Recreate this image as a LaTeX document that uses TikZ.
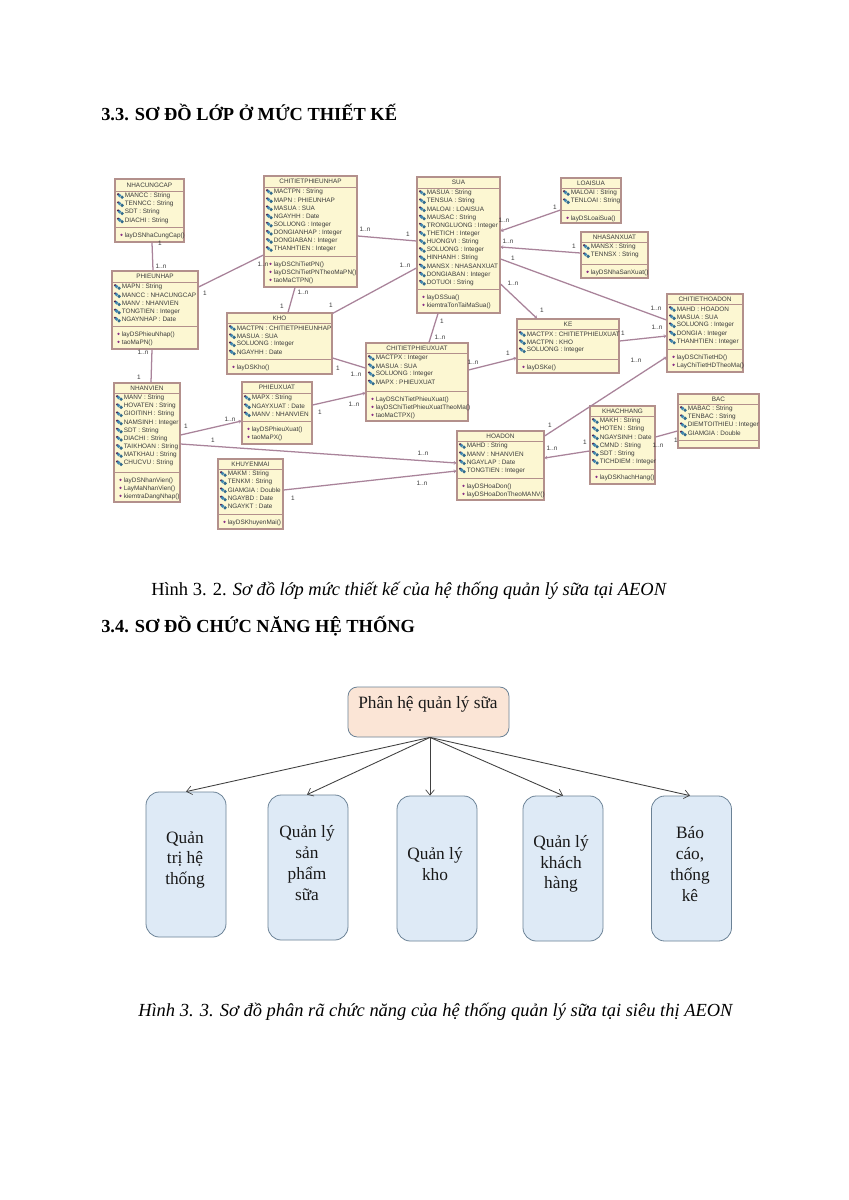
\documentclass[tikz,border=0pt]{standalone}
\usepackage{fontspec}
\setmainfont{Liberation Serif}
\newfontfamily\umlf{Liberation Sans}
\usetikzlibrary{arrows.meta,calc}
\definecolor{umlfill}{HTML}{FCF7D2}
\definecolor{umledge}{HTML}{B3908C}
\definecolor{umlline}{HTML}{A9839A}
\definecolor{umltext}{HTML}{3C3C3C}
\definecolor{attrblue}{HTML}{3F86B0}
\definecolor{methpurple}{HTML}{8A2F86}
\definecolor{topfill}{HTML}{FBE5D6}
\definecolor{botfill}{HTML}{DEEAF6}
\definecolor{boxedge}{HTML}{6B8296}
\tikzset{
  classbox/.style={draw=umledge,fill=umlfill,line width=0.85pt,inner sep=0,rectangle},
  rowline/.style={draw=umledge,line width=0.7pt},
  umltitle/.style={font=\umlf\fontsize{4.8}{5.5}\selectfont,text=umltext,inner sep=0},
  umlrow/.style={font=\umlf\fontsize{4.8}{5.5}\selectfont,text=umltext,inner sep=0,anchor=west},
  mult/.style={font=\umlf\fontsize{4.8}{5.5}\selectfont,text=umltext,inner sep=0},
  assoc/.style={draw=umlline,line width=0.95pt},
  assocto/.style={assoc,-{Straight Barb[length=1.6pt,width=2.4pt,line width=0.4pt]}},
  topbox/.style={draw=boxedge,fill=topfill,line width=0.6pt,rounded corners=7pt,inner sep=0},
  botbox/.style={draw=boxedge,fill=botfill,line width=0.6pt,rounded corners=10pt,inner sep=0},
  boxtext/.style={font=\fontsize{13}{15.6}\selectfont,align=center,inner sep=0,text=black!90},
  flow/.style={draw=black!75,line width=0.65pt,-{Straight Barb[length=4pt,width=6.5pt,line width=0.5pt]}},
  headtext/.style={font=\bfseries\fontsize{13.8}{16}\selectfont,anchor=west,inner sep=0},
  captext/.style={font=\fontsize{13.85}{16}\selectfont,anchor=west,inner sep=0},
}
\newcounter{mc}
\newcommand{\mlt}[3]{\stepcounter{mc}\node[mult] (m\arabic{mc}) at (#1,#2) {#3};}
\def\emptyrow{}
% id x0 y0 x1 y1 headerY dividerY title attrs methods
\newcommand{\umlclass}[9]{%
  \def\cid{#1}\def\cxa{#2}\def\cya{#3}\def\cxb{#4}\def\cyb{#5}\def\chd{#6}\def\cdv{#7}%
  \def\ctitle{#8}\def\cattrs{#9}\umlclassB}
\newcommand{\umlclassB}[1]{%
  \pgfmathsetmacro{\cmx}{(\cxa+\cxb)/2}\pgfmathsetmacro{\cmy}{(\cya+\cyb)/2}%
  \pgfmathsetmacro{\cw}{(\cxb-\cxa)*0.75}\pgfmathsetmacro{\ch}{(\cyb-\cya)*0.75}%
  \node[classbox,minimum width=\cw pt,minimum height=\ch pt] (\cid) at (\cmx,\cmy) {};
  \draw[rowline] (\cxa,\chd) -- (\cxb,\chd);
  \draw[rowline] (\cxa,\cdv) -- (\cxb,\cdv);
  \pgfmathsetmacro{\cty}{(\cya+\chd)/2}%
  \node[umltitle] (\cid-title) at (\cmx,\cty) {\ctitle};
  \foreach \rowtxt [count=\ri] in \cattrs {%
    \pgfmathsetmacro{\ry}{\chd+5+(\ri-1)*8.15}%
    \pgfmathsetmacro{\ix}{\cxa+5.5}%
    \fill[methpurple!55!black] (\ix-2.4,\ry-1.8) circle (1.2);
    \fill[attrblue] (\ix-1,\ry-0.6) circle (1.9);
    \fill[attrblue!80!black] (\ix+1.6,\ry+1.2) circle (1.8);
    \pgfmathsetmacro{\tx}{\cxa+9.5}%
    \node[umlrow] (\cid-a\ri) at (\tx,\ry) {\rowtxt};
  }
  \foreach \rowtxt [count=\ri] in {#1} {%
    \ifx\rowtxt\emptyrow\else
    \pgfmathsetmacro{\ry}{\cdv+9+(\ri-1)*8}%
    \pgfmathsetmacro{\ix}{\cxa+6.5}%
    \fill[methpurple] (\ix,\ry-1.2) circle (1.3);
    \pgfmathsetmacro{\tx}{\cxa+9.5}%
    \node[umlrow] (\cid-m\ri) at (\tx,\ry) {\rowtxt};
    \fi
  }
}
\begin{document}
\begin{tikzpicture}[x=0.75pt,y=-0.75pt]
\useasboundingbox (0,0) rectangle (849,1200);
\fill[white] (0,0) rectangle (849,1200);
\node[headtext] (h1) at (101,112) {3.3. SƠ ĐỒ LỚP Ở MỨC THIẾT KẾ};
\node[headtext] (h2) at (101,626) {3.4. SƠ ĐỒ CHỨC NĂNG HỆ THỐNG};
\node[captext] (c1) at (151,591) {Hình 3. 2. \textit{Sơ đồ lớp mức thiết kế của hệ thống quản lý sữa tại AEON}};
\node[captext] (c2) at (138,1012) {\textit{Hình 3. 3. Sơ đồ phân rã chức năng của hệ thống quản lý sữa tại siêu thị AEON}};

\umlclass{NHACUNGCAP}{115}{179}{184}{242}{191}{227}{NHACUNGCAP}{MANCC : String,TENNCC : String,SDT : String,DIACHI : String}{layDSNhaCungCap()}
\umlclass{PHIEUNHAP}{112}{271}{198}{349}{282}{326}{PHIEUNHAP}{MAPN : String,MANCC : NHACUNGCAP,MANV : NHANVIEN,TONGTIEN : Integer,NGAYNHAP : Date}{layDSPhieuNhap(),taoMaPN()}
\umlclass{CTPN}{264}{176}{357}{287}{187}{256}{CHITIETPHIEUNHAP}{MACTPN : String,MAPN : PHIEUNHAP,MASUA : SUA,NGAYHH : Date,SOLUONG : Integer,DONGIANHAP : Integer,DONGIABAN : Integer,THANHTIEN : Integer}{layDSChiTietPN(),layDSChiTietPNTheoMaPN(),taoMaCTPN()}
\umlclass{KHO}{227}{313}{332}{374}{323}{359}{KHO}{MACTPN : CHITIETPHIEUNHAP,MASUA : SUA,SOLUONG : Integer,NGAYHH : Date}{layDSKho()}
\umlclass{SUA}{417}{177}{500}{313}{188}{289}{SUA}{MASUA : String,TENSUA : String,MALOAI : LOAISUA,MAUSAC : String,TRONGLUONG : Integer,THETICH : Integer,HUONGVI : String,SOLUONG : Integer,HINHANH : String,MANSX : NHASANXUAT,DONGIABAN : Integer,DOTUOI : String}{layDSSua(),kiemtraTonTaiMaSua()}
\umlclass{LOAISUA}{561}{178}{621}{223}{188}{210}{LOAISUA}{MALOAI : String,TENLOAI : String}{layDSLoaiSua()}
\umlclass{NHASANXUAT}{581}{232}{648}{278}{242}{264}{NHASANXUAT}{MANSX : String,TENNSX : String}{layDSNhaSanXuat()}
\umlclass{CTHD}{667}{294}{743}{372}{304}{349}{CHITIETHOADON}{MAHD : HOADON,MASUA : SUA,SOLUONG : Integer,DONGIA : Integer,THANHTIEN : Integer}{layDSChiTietHD(),LayChiTietHDTheoMa()}
\umlclass{KE}{517}{319}{619}{373}{329}{359}{KE}{MACTPX : CHITIETPHIEUXUAT,MACTPN : KHO,SOLUONG : Integer}{layDSKe()}
\umlclass{CTPX}{366}{343}{468}{421}{353}{391}{CHITIETPHIEUXUAT}{MACTPX : Integer,MASUA : SUA,SOLUONG : Integer,MAPX : PHIEUXUAT}{LayDSChiTietPhieuXuat(),layDSChiTietPhieuXuatTheoMa(),taoMaCTPX()}
\umlclass{PHIEUXUAT}{242}{382}{312}{444}{393}{421}{PHIEUXUAT}{MAPX : String,NGAYXUAT : Date,MANV : NHANVIEN}{layDSPhieuXuat(),taoMaPX()}
\umlclass{NHANVIEN}{114}{383}{180}{502}{393}{472}{NHANVIEN}{MANV : String,HOVATEN : String,GIOITINH : String,NAMSINH : Integer,SDT : String,DIACHI : String,TAIKHOAN : String,MATKHAU : String,CHUCVU : String}{layDSNhanVien(),LayMaNhanVien(),kiemtraDangNhap()}
\umlclass{KHUYENMAI}{218}{459}{283}{529}{469}{514}{KHUYENMAI}{MAKM : String,TENKM : String,GIAMGIA : Double,NGAYBD : Date,NGAYKT : Date}{layDSKhuyenMai()}
\umlclass{HOADON}{457}{431}{544}{500}{441}{478}{HOADON}{MAHD : String,MANV : NHANVIEN,NGAYLAP : Date,TONGTIEN : Integer}{layDSHoaDon(),layDSHoaDonTheoMANV()}
\umlclass{KHACHHANG}{590}{406}{655}{484}{416}{469}{KHACHHANG}{MAKH : String,HOTEN : String,NGAYSINH : Date,CMND : String,SDT : String,TICHDIEM : Integer}{layDSKhachHang()}
\umlclass{BAC}{678}{394}{759}{448}{404}{440}{BAC}{MABAC : String,TENBAC : String,DIEMTOITHIEU : Integer,GIAMGIA : Double}{}

\draw[assoc] ([shift={(2.5,0)}]NHACUNGCAP.south) -- ([shift={(-2,0)}]PHIEUNHAP.north);
\draw[assoc] ([shift={(0,-23)}]PHIEUNHAP.east) -- ([shift={(0,23.5)}]CTPN.west);
\draw[assoc] ([shift={(-3,0)}]PHIEUNHAP.south) -- ([shift={(4,0)}]NHANVIEN.north);
\draw[assoc] ([shift={(-15.5,0)}]CTPN.south) -- ([shift={(8.5,0)}]KHO.north);
\draw[assoc] ([shift={(0,4.5)}]CTPN.east) -- ([shift={(0,-4)}]SUA.west);
\draw[assoc] ([shift={(0,1)}]KHO.north east) -- ([shift={(0,23)}]SUA.west);
\draw[assoc] ([shift={(0,14.5)}]KHO.east) -- ([shift={(0,-14)}]CTPX.west);
\draw[assoc] ([shift={(-20.5,0)}]SUA.south) -- ([shift={(12,0)}]CTPX.north);
\draw[assocto] ([shift={(0,9.5)}]LOAISUA.west) -- ([shift={(0,-14)}]SUA.east);
\draw[assocto] ([shift={(0,-2)}]NHASANXUAT.west) -- ([shift={(0,2)}]SUA.east);
\draw[assoc] ([shift={(0,14)}]SUA.east) -- ([shift={(0,-13)}]CTHD.west);
\draw[assocto] ([shift={(0,39)}]SUA.east) -- ([shift={(-31,0)}]KE.north);
\draw[assocto] ([shift={(0,-5)}]KE.east) -- ([shift={(0,3)}]CTHD.west);
\draw[assocto] ([shift={(0,-29.5)}]HOADON.east) -- ([shift={(0,24)}]CTHD.west);
\draw[assocto] ([shift={(0,-12)}]CTPX.east) -- ([shift={(0,12)}]KE.west);
\draw[assocto] ([shift={(0,-8)}]PHIEUXUAT.east) -- ([shift={(0,11)}]CTPX.west);
\draw[assocto] ([shift={(0,-7.5)}]NHANVIEN.east) -- ([shift={(0,8)}]PHIEUXUAT.west);
\draw[assocto] ([shift={(0,1.5)}]NHANVIEN.east) -- ([shift={(0,-2.5)}]HOADON.west);
\draw[assocto] ([shift={(0,-4)}]KHUYENMAI.east) -- ([shift={(0,5.5)}]HOADON.west);
\draw[assocto] ([shift={(0,6)}]KHACHHANG.west) -- ([shift={(0,-7.5)}]HOADON.east);
\draw[assoc] ([shift={(0,-8)}]KHACHHANG.east) -- ([shift={(0,10)}]BAC.west);

\mlt{160}{243}{1}\mlt{161}{266}{1..n}
\mlt{205}{293}{1}\mlt{263}{264}{1..n}
\mlt{143}{352}{1..n}\mlt{139}{377}{1}
\mlt{303}{292}{1..n}\mlt{282}{306}{1}
\mlt{365}{229}{1..n}\mlt{408}{234}{1}
\mlt{331}{305}{1}\mlt{405}{265}{1..n}
\mlt{338}{368}{1}\mlt{356}{374}{1..n}
\mlt{442}{321}{1}\mlt{440}{337}{1..n}
\mlt{504}{220}{1..n}\mlt{555}{207}{1}
\mlt{508}{241}{1..n}\mlt{574}{246}{1}
\mlt{513}{258}{1}\mlt{656}{308}{1..n}
\mlt{513}{283}{1..n}\mlt{542}{310}{1}
\mlt{623}{333}{1}\mlt{657}{327}{1..n}
\mlt{550}{425}{1}\mlt{636}{360}{1..n}
\mlt{473}{362}{1..n}\mlt{508}{353}{1}
\mlt{320}{412}{1}\mlt{354}{404}{1..n}
\mlt{186}{426}{1}\mlt{230}{419}{1..n}
\mlt{213}{440}{1}\mlt{423}{453}{1..n}
\mlt{293}{498}{1}\mlt{422}{483}{1..n}
\mlt{552}{448}{1..n}\mlt{585}{442}{1}
\mlt{658}{445}{1..n}\mlt{676}{440}{1}

\node[topbox,minimum width=120.75pt,minimum height=37.5pt] (root) at (428.5,712) {};
\node[botbox,minimum width=60pt,minimum height=108.75pt] (b1) at (186,864.5) {};
\node[botbox,minimum width=60pt,minimum height=108.75pt] (b2) at (308,867.5) {};
\node[botbox,minimum width=60pt,minimum height=108.75pt] (b3) at (437,868.5) {};
\node[botbox,minimum width=60pt,minimum height=108.75pt] (b4) at (563,868.5) {};
\node[botbox,minimum width=60pt,minimum height=108.75pt] (b5) at (691.5,868.5) {};
\node[boxtext] (troot) at (428,704) {Phân hệ quản lý sữa};
\node[boxtext] (t1) at (185,860) {Quản\\trị hệ\\thống};
\node[boxtext] (t2) at (307,863) {Quản lý\\sản\\phẩm\\sữa};
\node[boxtext] (t3) at (435,864) {Quản lý\\kho};
\node[boxtext] (t4) at (561,864) {Quản lý\\khách\\hàng};
\node[boxtext] (t5) at (690,864) {Báo\\cáo,\\thống\\kê};
\coordinate (rootp) at ([shift={(1.5,0)}]root.south);
\draw[flow] (rootp) -- (b1.north);
\draw[flow] (rootp) -- ([shift={(-1,0)}]b2.north);
\draw[flow] (rootp) -- ([shift={(-7,0)}]b3.north);
\draw[flow] (rootp) -- (b4.north);
\draw[flow] (rootp) -- ([shift={(-1.5,0)}]b5.north);
\end{tikzpicture}
\end{document}
